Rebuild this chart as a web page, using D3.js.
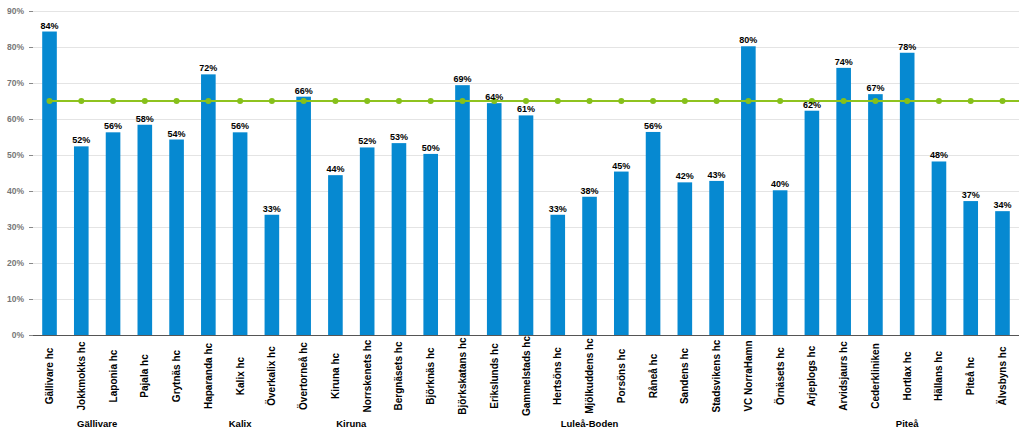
<!DOCTYPE html>
<html><head><meta charset="utf-8">
<script src="https://cdn.jsdelivr.net/npm/d3@7"></script>
<style>body{margin:0;background:#fff;}svg{display:block;font-family:"Liberation Sans",Arial,sans-serif;}</style>
</head><body>
<svg id="c" width="1024" height="434"></svg>
<script>
const categories = ["Gällivare hc","Jokkmokks hc","Laponia hc","Pajala hc","Grytnäs hc","Haparanda hc","Kalix hc","Överkalix hc","Övertorneå hc","Kiruna hc","Norrskenets hc","Bergnäsets hc","Björknäs hc","Björkskatans hc","Erikslunds hc","Gammelstads hc","Hertsöns hc","Mjölkuddens hc","Porsöns hc","Råneå hc","Sandens hc","Stadsvikens hc","VC NorraHamn","Örnäsets hc","Arjeplogs hc","Arvidsjaurs hc","Cederkliniken","Hortlax hc","Hällans hc","Piteå hc","Älvsbyns hc"];
const values = [84.3,52.4,56.3,58.4,54.3,72.4,56.3,33.4,66.2,44.4,52.1,53.3,50.3,69.4,64.4,61.0,33.4,38.4,45.4,56.4,42.4,42.8,80.2,40.2,62.3,74.2,66.9,78.4,48.2,37.2,34.4];
const target = categories.map(() => 65);
const groups = ["Gällivare","Kalix","Kiruna","Luleå-Boden","Piteå"];
const groupStart = [0,4,9,11,24];
const groupEnd = [3,8,10,23,30];
const yTicks = [0,10,20,30,40,50,60,70,80,90];

const svg = d3.select("#c");
const L = 33, R = 1019, T = 11, B = 335;
const x = d3.scaleBand().domain(categories).range([L, R]).paddingInner(0.54).paddingOuter(0.29);
const y = d3.scaleLinear().domain([0, 90]).range([B, T]);

// gridlines
svg.append("g").selectAll("line").data(yTicks.filter(d => d > 0)).join("line")
  .attr("x1", L).attr("x2", R).attr("y1", d => Math.round(y(d)) + 0.5).attr("y2", d => Math.round(y(d)) + 0.5)
  .attr("stroke", "#e4e4e4").attr("stroke-width", 1);

// y axis
const ya = svg.append("g").attr("transform", `translate(${L},0)`)
  .call(d3.axisLeft(y).tickValues(yTicks).tickFormat(d => d + "%").tickSize(4).tickPadding(5));
ya.select(".domain").remove();
ya.selectAll(".tick line").attr("stroke", "#888");
ya.selectAll("text").attr("fill", "#777").attr("font-size", "8.5px").attr("font-weight", "bold")
  .attr("font-family", "Liberation Sans, Arial, sans-serif");

// bars
svg.append("g").selectAll("rect").data(values).join("rect")
  .attr("x", (d, i) => x(categories[i])).attr("width", x.bandwidth())
  .attr("y", d => y(d)).attr("height", d => B - y(d)).attr("fill", "#0689d1");

// x axis line
svg.append("line").attr("x1", L).attr("x2", R).attr("y1", B + 0.5).attr("y2", B + 0.5)
  .attr("stroke", "#555").attr("stroke-width", 1);

// target line
const cx = c => x(c) + x.bandwidth() / 2;
svg.append("path").datum(target)
  .attr("d", d3.line().x((d, i) => cx(categories[i])).y(d => y(d)))
  .attr("fill", "none").attr("stroke", "#8fc31f").attr("stroke-width", 2);
svg.append("path").attr("d", `M${cx(categories[30])},${y(65)}H${R}`)
  .attr("stroke", "#8fc31f").attr("stroke-width", 2);
svg.append("g").selectAll("circle").data(target).join("circle")
  .attr("cx", (d, i) => cx(categories[i])).attr("cy", d => y(d)).attr("r", 3)
  .attr("fill", "#86c01b");

// value labels
svg.append("g").selectAll("text").data(values).join("text")
  .attr("x", (d, i) => cx(categories[i])).attr("y", d => y(d) - 3)
  .attr("text-anchor", "middle").attr("font-size", "9px").attr("font-weight", "bold")
  .attr("fill", "#000").text(d => Math.round(d) + "%");

// category labels
svg.append("g").selectAll("text").data(categories).join("text")
  .attr("transform", d => `translate(${cx(d) + 3.5},${376}) rotate(-90)`)
  .attr("text-anchor", "middle").attr("font-size", "10px").attr("font-weight", "bold")
  .attr("fill", "#000").text(d => d);

// group labels
svg.append("g").selectAll("text").data(groups).join("text")
  .attr("x", (d, i) => (cx(categories[groupStart[i]]) + cx(categories[groupEnd[i]])) / 2)
  .attr("y", 426.5).attr("text-anchor", "middle").attr("font-size", "9.5px").attr("font-weight", "bold")
  .attr("fill", "#000").text(d => d);
</script>
</body></html>
